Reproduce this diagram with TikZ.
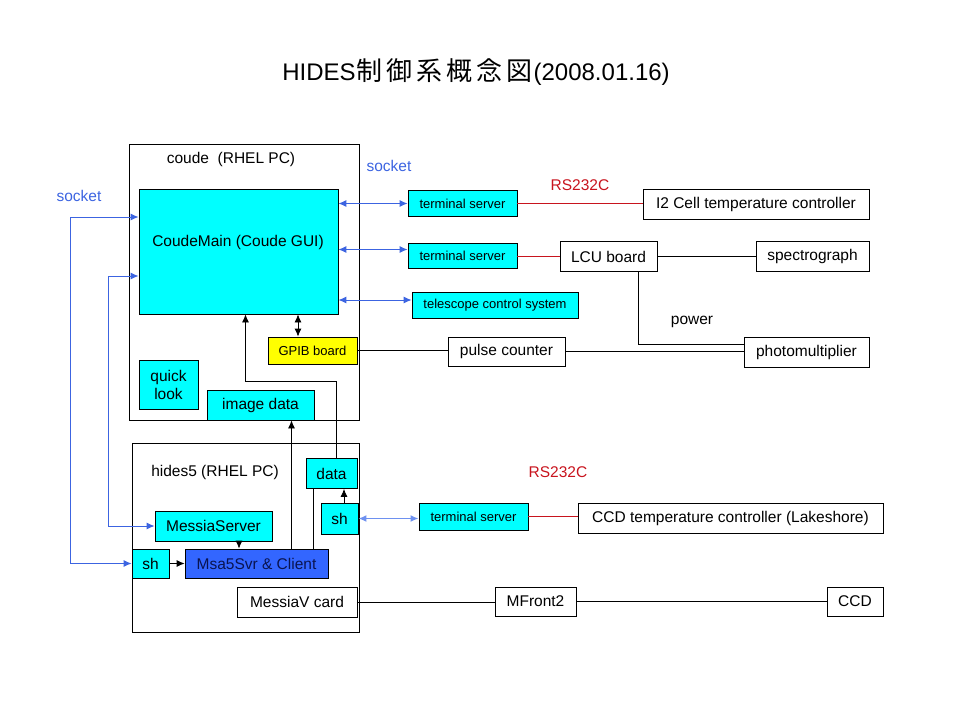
\documentclass[tikz,border=0pt]{standalone}
\usepackage{fontspec}
\setmainfont{Liberation Sans}
\newfontfamily\cjk{Noto Sans CJK JP}
\usetikzlibrary{arrows.meta}

\definecolor{boxcyan}{RGB}{0,255,255}
\definecolor{gpibyellow}{RGB}{255,255,0}
\definecolor{sockblue}{RGB}{60,100,225}
\definecolor{lightsock}{RGB}{110,145,240}
\definecolor{rsred}{RGB}{200,20,30}
\definecolor{msablue}{RGB}{51,102,255}
\definecolor{msatext}{RGB}{10,20,80}

\tikzset{
  boxsize/.style 2 args={minimum width=#1pt, minimum height=#2pt},
  box/.style={draw=black, line width=0.8pt, inner sep=0pt, font=\fontsize{15.5}{18}\selectfont},
  cyanbox/.style={box, fill=boxcyan},
  small/.style={font=\fontsize{13}{15}\selectfont},
  lbl/.style={inner sep=0pt, font=\fontsize{15.5}{18}\selectfont},
  wire/.style={black, line width=0.8pt},
  sockline/.style={sockblue, line width=1pt, <->},
  rsline/.style={rsred, line width=0.8pt},
}

\begin{document}
\begin{tikzpicture}[x=1pt,y=-1pt,>={Latex[length=8pt,width=7pt]}]
    \useasboundingbox (0,0) rectangle (960,720);

    % title
    \node[lbl, font=\fontsize{24}{27}\selectfont] (title) at (476,72)
      {HIDES{\cjk\fontsize{26}{27}\selectfont\kern1pt 制\kern4pt 御\kern4pt 系\kern4pt 概\kern4pt 念\kern4pt 図\kern1pt}(2008.01.16)};

    % the two computers
    \node[box, boxsize={230}{276}] (coude) at (244,282) {};
    \node[lbl] (coudelbl) at (231,159) {coude\ \ (RHEL PC)};
    \node[box, boxsize={227}{189}] (hides) at (245.5,537.5) {};
    \node[lbl] (hideslbl) at (215,472) {hides5 (RHEL PC)};

    % coude
    \node[cyanbox, boxsize={199}{125}] (coudemain) at (238.5,251.5) {};
    \node[lbl] (coudemaintxt) at (238,242) {CoudeMain (Coude GUI)};
    \node[box, fill=gpibyellow, small, boxsize={89}{27}] (gpib) at (312.5,350.5) {GPIB board};
    \node[cyanbox, boxsize={59}{49}, align=center] (quick) at (168.5,384.5) {quick\\look};
    \node[cyanbox, boxsize={107}{30}] (imgdata) at (260.5,405) {image data};

    % hides5
    \node[cyanbox, boxsize={51}{30}] (data) at (331.5,473.5) {data};
    \node[cyanbox, boxsize={37}{31}] (shb) at (339.5,518.5) {sh};
    \node[cyanbox, boxsize={117}{30}] (messiasrv) at (213.5,526) {MessiaServer};
    \node[cyanbox, boxsize={37}{29}] (sha) at (150.5,563.5) {sh};
    \node[box, fill=msablue, text=msatext, boxsize={143}{29}] (msa) at (256.5,563.5) {Msa5Svr \& Client};
    \node[box, fill=white, boxsize={120}{30}] (messiav) at (297,602) {MessiaV card};

    % outside
    \node[cyanbox, small, boxsize={109}{26}] (tsa) at (462.5,203.5) {terminal server};
    \node[cyanbox, small, boxsize={109}{25}] (tsb) at (462.5,256) {terminal server};
    \node[cyanbox, small, boxsize={166}{26}] (tcs) at (495,305) {telescope control system};
    \node[box, boxsize={226}{30}] (i2ctl) at (756,204) {I2 Cell temperature controller};
    \node[box, boxsize={97}{30}] (lcu) at (608.5,256.5) {LCU board};
    \node[box, boxsize={113}{30}] (spectro) at (812.5,256.5) {spectrograph};
    \node[box, boxsize={117}{29}] (pulse) at (506.5,351.5) {pulse counter};
    \node[box, boxsize={125}{30}] (pmt) at (806.5,352) {photomultiplier};
    \node[cyanbox, small, boxsize={109}{27}] (tsc) at (473.5,516.5) {terminal server};
    \node[box, boxsize={305}{30}] (ccdtemp) at (730.5,518) {CCD temperature controller (Lakeshore)};
    \node[box, boxsize={81}{29}] (mfront) at (535.5,601.5) {MFront2};
    \node[box, boxsize={56}{29}] (ccd) at (855,601.5) {CCD};

    % labels
    \node[lbl, text=sockblue] (socka) at (79,196) {socket};
    \node[lbl, text=sockblue] (sockb) at (389,166) {socket};
    \node[lbl, text=rsred] (rsa) at (580,185) {RS232C};
    \node[lbl, text=rsred] (rsb) at (558,472) {RS232C};
    \node[lbl] (powerlbl) at (692,322) {power};

    % sockets
    \draw[sockline] (tsa.west) -- (tsa.west -| coudemain.east);
    \draw[sockline] ([yshift=6.5pt]tsb.west) -- ([yshift=6.5pt]tsb.west -| coudemain.east);
    \draw[sockline] ([yshift=5pt]tcs.west) -- ([yshift=5pt]tcs.west -| coudemain.east);
    \draw[sockline] ([yshift=34.5pt]coudemain.west) -- ++(-68,0) |- (sha.west);
    \draw[sockline] ([yshift=-24.5pt]coudemain.west) -- ++(-30,0) |- (messiasrv.west);
    \draw[sockline, lightsock, line width=1.5pt] (shb.east) -- (shb.east -| tsc.west);

    % RS232C
    \draw[rsline] (tsa.east) -- (tsa.east -| i2ctl.west);
    \draw[rsline] (tsb.east) -- (tsb.east -| lcu.west);
    \draw[rsline] (tsc.east) -- (tsc.east -| ccdtemp.west);

    % cables
    \draw[wire] (lcu.east) -- (spectro.west);
    \draw[wire] ([xshift=30pt]lcu.south) |- ([yshift=8pt]pmt.west);
    \draw[wire] (gpib.east) -- (gpib.east -| pulse.west);
    \draw[wire] (pulse.east) -- (pulse.east -| pmt.west);
    \draw[wire] (messiav.east) -- (messiav.east -| mfront.west);
    \draw[wire] (mfront.east) -- (ccd.west);

    % inside the computers
    \draw[wire,<->] ([xshift=-14.5pt]gpib.north) -- ([xshift=-14.5pt]gpib.north |- coudemain.south);
    \draw[wire,->] ([xshift=5pt]data.north) -- ++(0,-76.5) -| ([xshift=7pt]coudemain.south);
    \draw[wire,->] ([xshift=35pt]msa.north) -- ([xshift=35pt]msa.north |- imgdata.south);
    \draw[wire] ([xshift=-18.5pt]data.south) -- ([xshift=-18.5pt]data.south |- msa.north);
    \draw[wire,->] ([xshift=4.5pt]shb.north) -- ([xshift=4.5pt]shb.north |- data.south);
    \draw[wire,->] ([xshift=25.5pt]messiasrv.south) -- ([xshift=25.5pt]messiasrv.south |- msa.north);
    \draw[wire,->] (sha.east) -- (msa.west);
\end{tikzpicture}
\end{document}
